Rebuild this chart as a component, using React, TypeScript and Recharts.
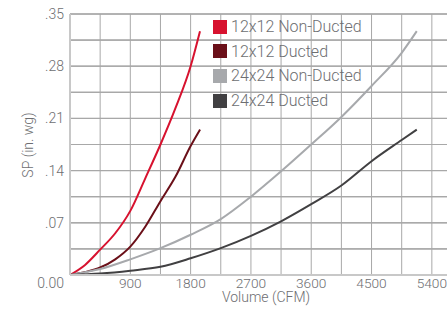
import React from 'react';
import { LineChart, Line, CartesianGrid, XAxis, YAxis, ReferenceLine } from 'recharts';

// CFM readings for the 12x12 and 24x24 fittings
const cfm12 = [0, 225, 450, 675, 900, 1125, 1350, 1575, 1800, 1940];
const sp12NonDucted = [0, 0.0135, 0.034, 0.056, 0.086, 0.13, 0.175, 0.224, 0.28, 0.327];
const sp12Ducted = [0, 0.004, 0.01, 0.021, 0.038, 0.065, 0.099, 0.132, 0.173, 0.195];

const cfm24 = [0, 450, 900, 1350, 1800, 2250, 2700, 3150, 3600, 4050, 4500, 4950, 5175];
const sp24NonDucted = [0, 0.008, 0.021, 0.036, 0.054, 0.075, 0.105, 0.139, 0.175, 0.212, 0.2535, 0.298, 0.327];
const sp24Ducted = [0, 0.002, 0.0058, 0.011, 0.0224, 0.036, 0.0525, 0.072, 0.095, 0.12, 0.1526, 0.181, 0.195];

const xTicks = [900, 1800, 2700, 3600, 4500, 5400];
const xMax = 5850;
const xGrid = [450, 900, 1350, 1800, 2250, 2700, 3150, 3600, 4050, 4500, 4950, 5400, 5850];
const yTicks = [0, 0.07, 0.14, 0.21, 0.28, 0.35];
const yTickLabels = ['0.00', '.07', '.14', '.21', '.28', '.35'];
const yGrid = [0.035, 0.07, 0.105, 0.14, 0.175, 0.21, 0.245, 0.28, 0.315, 0.35];

const toPoints = (xs: number[], ys: number[]) => xs.map((c, i) => ({ cfm: c, sp: ys[i] }));

const series = [
    { name: '12x12 Non-Ducted', color: '#d7122f', data: toPoints(cfm12, sp12NonDucted) },
    { name: '12x12 Ducted', color: '#6b1019', data: toPoints(cfm12, sp12Ducted) },
    { name: '24x24 Non-Ducted', color: '#a7a9ac', data: toPoints(cfm24, sp24NonDucted) },
    { name: '24x24 Ducted', color: '#414042', data: toPoints(cfm24, sp24Ducted) },
];

const textColor = '#6d6e71';
const gridColor = '#a8a8a8';
const font = 'Roboto, sans-serif';

const YTick = (props: any) => {
    const { x, y, payload } = props;
    const idx = yTicks.findIndex((v) => Math.abs(v - payload.value) < 1e-9);
    if (idx < 0) return <g />;
    return (
        <text x={x} y={payload.value === 0 ? y + 8 : y} textAnchor="end" dominantBaseline="central"
            fontFamily={font} fontSize={14} fontWeight={300} fill={textColor}>
            {yTickLabels[idx]}
        </text>
    );
};

const XTick = (props: any) => {
    const { x, y, payload } = props;
    return (
        <text x={x} y={y} textAnchor="middle" dominantBaseline="central"
            fontFamily={font} fontSize={13.7} fontWeight={300} fill={textColor}>
            {payload.value}
        </text>
    );
};

const titleStyle: React.CSSProperties = {
    position: 'absolute', fontFamily: font, fontWeight: 300, fontSize: 14, color: textColor,
    lineHeight: '16px', whiteSpace: 'nowrap',
};

// legend sits over the plot, top-middle
const LegendBox = () => (
    <div style={{ position: 'absolute', left: 205, top: 6.5, fontFamily: font, fontWeight: 300, fontSize: 16, color: textColor }}>
        {series.map((s) => (
            <div key={s.name} style={{ display: 'flex', alignItems: 'center', height: 24.6 }}>
                <span style={{ display: 'inline-block', width: 14, height: 14, background: s.color, marginRight: 4 }} />
                <span>{s.name}</span>
            </div>
        ))}
    </div>
);

export default function App() {
    return (
        <div style={{ position: 'absolute', left: 8, top: 8, width: 439, height: 301, overflow: 'hidden' }}>
            <LineChart width={454} height={301} margin={{ top: 6, right: 0, bottom: 0, left: 0 }}>
                <CartesianGrid stroke={gridColor} verticalValues={xGrid} horizontalValues={yGrid} />
                {yGrid.map((v) => (
                    <ReferenceLine key={'r' + v} y={v} stroke={gridColor} strokeWidth={1} />
                ))}
                {yGrid.map((v) => (
                    <Line key={'g' + v} data={[{ cfm: 0, sp: v }, { cfm: xMax, sp: v }]} dataKey="sp"
                        type="linear" stroke={gridColor} strokeWidth={1} dot={false} activeDot={false}
                        legendType="none" isAnimationActive={false} />
                ))}
                <XAxis type="number" dataKey="cfm" domain={[0, xMax]} ticks={xTicks} interval={0} height={34}
                    tick={<XTick />} tickLine={false} axisLine={{ stroke: '#c8c8c8', strokeWidth: 2 }} />
                <YAxis type="number" domain={[0, 0.35]} ticks={yTicks} interval={0} width={62} tickMargin={0}
                    tick={<YTick />} tickLine={false} axisLine={{ stroke: '#c8c8c8', strokeWidth: 2 }} />
                {series.map((s) => (
                    <Line key={s.name} name={s.name} data={s.data} dataKey="sp" type="monotone" stroke={s.color}
                        strokeWidth={2} dot={false} activeDot={false} isAnimationActive={false} />
                ))}
            </LineChart>
            <div style={{ ...titleStyle, left: 20, top: 128.5, transform: 'translate(-50%, 0) rotate(-90deg)' }}>
                SP (in. wg)
            </div>
            <div style={{ ...titleStyle, left: 258, top: 281, transform: 'translate(-50%, 0)' }}>
                Volume (CFM)
            </div>
            <LegendBox />
        </div>
    );
}
